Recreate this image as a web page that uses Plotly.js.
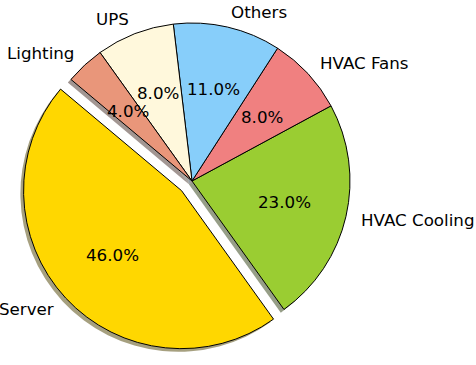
<!DOCTYPE html>
<html>
<head>
<meta charset="utf-8">
<script src="https://cdn.plot.ly/plotly-3.0.1.min.js"></script>
<style>html,body{margin:0;padding:0;background:#fff;}#chart{width:476px;height:365px;}</style>
</head>
<body>
<div id="chart"></div>
<script>
var labels = ['Server', 'HVAC Cooling', 'HVAC Fans', 'Others', 'UPS', 'Lighting'];
var values = [46, 23, 8, 11, 8, 4];
var colors = ['#FFD700', '#9ACD32', '#F08080', '#87CEFA', '#FFF8DC', '#E9967A'];
var explode = [0.09, 0, 0, 0, 0, 0];

var W = 476, H = 365;
var cx = 192, cy = 181, R = 158;      // pie centre and radius in px
var startAngle = 140;                 // matplotlib-style start angle (deg, ccw from 3 o'clock)
var maxPull = Math.max.apply(null, explode);
var half = R * (1 + maxPull);
var total = values.reduce(function (a, b) { return a + b; }, 0);
// Plotly (counterclockwise) places the end of the first slice at 'rotation'
var plotlyRotation = 90 - (startAngle + 360 * values[0] / total);

function dom(ox, oy) {
  return {
    x: [(cx + ox - half) / W, (cx + ox + half) / W],
    y: [1 - (cy + oy + half) / H, 1 - (cy + oy - half) / H]
  };
}

function shade(hex) {
  var r = parseInt(hex.substr(1, 2), 16), g = parseInt(hex.substr(3, 2), 16), b = parseInt(hex.substr(5, 2), 16);
  return 'rgba(' + Math.round(r * 0.3) + ',' + Math.round(g * 0.3) + ',' + Math.round(b * 0.3) + ',0.5)';
}

var so = 0.02 * R;
var shadow = {
  type: 'pie', labels: labels, values: values, sort: false, direction: 'counterclockwise',
  rotation: plotlyRotation, pull: explode, textinfo: 'none', hoverinfo: 'none',
  marker: {colors: colors.map(shade), line: {width: 0}},
  domain: dom(-so, so), showlegend: false
};
var pie = {
  type: 'pie', labels: labels, values: values, sort: false, direction: 'counterclockwise',
  rotation: plotlyRotation, pull: explode, textinfo: 'none', hoverinfo: 'none',
  marker: {colors: colors, line: {width: 1, color: '#000'}},
  domain: dom(0, 0), showlegend: false
};

var annotations = [];
var theta = startAngle;
var font = {family: 'DejaVu Sans', size: 16.7, color: '#000'};
for (var i = 0; i < values.length; i++) {
  var span = 360 * values[i] / total;
  var mid = (theta + span / 2) * Math.PI / 180;
  var c = Math.cos(mid), s = Math.sin(mid);
  var ex = cx + explode[i] * R * c, ey = cy - explode[i] * R * s;
  var lx = ex + 1.1 * R * c, ly = ey - 1.1 * R * s;
  annotations.push({
    xref: 'paper', yref: 'paper', x: lx / W, y: 1 - ly / H, text: labels[i],
    showarrow: false, xanchor: c > 0 ? 'left' : 'right', yanchor: 'middle', font: font,
    borderpad: 0, borderwidth: 0
  });
  var px = ex + 0.6 * R * c, py = ey - 0.6 * R * s;
  annotations.push({
    xref: 'paper', yref: 'paper', x: px / W, y: 1 - py / H,
    text: (100 * values[i] / total).toFixed(1) + '%',
    showarrow: false, xanchor: 'center', yanchor: 'middle', font: font,
    borderpad: 0, borderwidth: 0
  });
  theta += span;
}

var layout = {
  width: W, height: H, margin: {l: 0, r: 0, t: 0, b: 0},
  paper_bgcolor: '#fff', plot_bgcolor: '#fff', showlegend: false,
  annotations: annotations
};
Plotly.newPlot('chart', [shadow, pie], layout, {displayModeBar: false, staticPlot: true});
</script>
</body>
</html>
